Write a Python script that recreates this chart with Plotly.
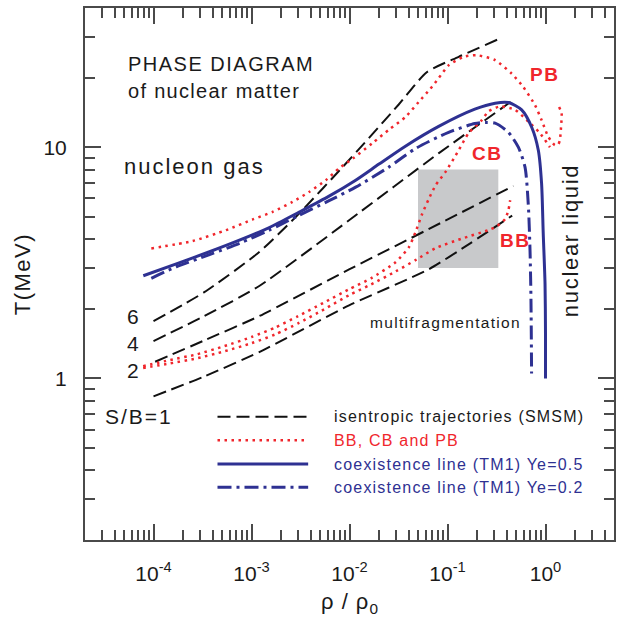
import math
import plotly.graph_objects as go

# isentropic trajectories (SMSM), one per S/B value
sb1_rho = [1.0e-4, 3.3e-4, 1.2e-3, 9.9e-3, 0.064, 0.172, 0.457]
sb1_T = [0.836, 1.02, 1.30, 2.07, 2.96, 3.85, 5.06]
sb2_rho = [1.04e-4, 3.3e-4, 1.2e-3, 9.9e-3, 0.064, 0.47]
sb2_T = [1.18, 1.46, 1.86, 2.96, 4.42, 6.8]
sb4_rho = [1.0e-4, 3.3e-4, 1.2e-3, 9.9e-3, 0.081, 0.47]
sb4_T = [1.45, 1.86, 2.51, 4.83, 9.4, 16.0]
sb6_rho = [1.0e-4, 3.3e-4, 1.2e-3, 2.84e-3, 9.9e-3, 0.0318, 0.0614, 0.130, 0.324]
sb6_T = [1.77, 2.36, 3.52, 5.0, 8.8, 15.3, 21.1, 24.6, 29.2]

# BB, CB and PB boundaries
bb_rho = [7.84e-5, 1.46e-4, 2.75e-4, 5.3e-4, 1.0e-3, 1.75e-3, 2.99e-3, 5.51e-3, 9.9e-3,
          0.0166, 0.0295, 0.0485, 0.0757, 0.139, 0.262, 0.318, 0.387, 0.418, 0.436]
bb_T = [1.11, 1.16, 1.22, 1.31, 1.42, 1.55, 1.73, 1.99, 2.29,
        2.55, 2.90, 3.27, 3.66, 4.02, 4.38, 4.55, 4.89, 5.34, 5.9]
cb_rho = [7.84e-5, 1.46e-4, 2.75e-4, 5.3e-4, 1.0e-3, 1.75e-3, 2.99e-3, 5.51e-3, 9.9e-3,
          0.0166, 0.0295, 0.0403, 0.0471, 0.055, 0.0643, 0.0757, 0.0951, 0.130, 0.164,
          0.224, 0.262, 0.344, 0.49, 0.668, 0.879, 1.11]
cb_T = [1.13, 1.20, 1.27, 1.38, 1.51, 1.66, 1.86, 2.13, 2.43,
        2.71, 3.18, 3.69, 4.29, 5.13, 5.96, 6.85, 7.8, 9.7, 11.5,
        13.1, 14.3, 15.0, 14.5, 12.9, 11.5, 10.0]
pb_rho = [9.5e-5, 2.52e-4, 5.51e-4, 1.03e-3, 1.64e-3, 2.62e-3, 3.87e-3, 5.73e-3, 7.82e-3,
          0.0107, 0.0171, 0.0252, 0.0372, 0.0509, 0.0668, 0.0813, 0.1026, 0.146, 0.199,
          0.306, 0.452, 0.594, 0.782, 0.912, 1.067, 1.248, 1.35, 1.40, 1.44, 1.46, 1.37]
pb_T = [3.65, 3.93, 4.38, 4.87, 5.25, 5.8, 6.4, 7.2, 8.1,
        8.9, 10.4, 11.9, 13.5, 15.7, 17.9, 19.9, 22.6, 24.6, 25.0,
        23.8, 20.8, 18.2, 15.2, 13.1, 11.1, 10.2, 10.3, 10.7, 12.2, 14.0, 15.0]

# coexistence lines (TM1)
ye05_rho = [7.87e-5, 1.71e-4, 3.73e-4, 7.53e-4, 1.52e-3, 3.07e-3, 6.19e-3, 0.01156, 0.020,
            0.0372, 0.0813, 0.19, 0.306, 0.418, 0.571, 0.723, 0.845, 0.912, 0.948, 0.989,
            1.0, 1.0]
ye05_T = [2.78, 3.13, 3.53, 3.96, 4.49, 5.24, 6.14, 7.2, 8.45,
          10.1, 12.3, 14.6, 15.5, 15.6, 14.5, 12.2, 9.7, 6.97, 4.24, 2.57,
          1.56, 1.0]
ye02_rho = [9.5e-5, 1.71e-4, 3.73e-4, 7.53e-4, 1.52e-3, 3.07e-3, 6.19e-3, 0.01156, 0.0252,
            0.0471, 0.1026, 0.19, 0.243, 0.306, 0.418, 0.528, 0.618, 0.668, 0.695, 0.711,
            0.721]
ye02_T = [2.71, 3.04, 3.43, 3.84, 4.38, 5.08, 5.87, 6.72, 8.2,
          9.86, 11.6, 12.65, 12.8, 12.7, 11.6, 10.0, 8.2, 5.61, 3.58, 2.18,
          1.05]

# multifragmentation region
box_rho = [0.05, 0.33]
box_T = [3.0, 8.0]

x_major = [1e-4, 1e-3, 1e-2, 1e-1, 1.0]
x_labels = ["10<sup>-4</sup>", "10<sup>-3</sup>", "10<sup>-2</sup>", "10<sup>-1</sup>", "10<sup>0</sup>"]
y_major = [1, 10]
y_labels = ["1", "10"]

RED = "#f0262c"
BLUE = "#2e3192"
INK = "#1a1a1a"
FRAME = "#4a4a4a"
FONT = "Liberation Sans, Arial, sans-serif"
DASH = "13px,6px"
DOT = "2.5px,4.5px"
DASHDOT = "14px,5px,3px,5px"


def paper(px, py):
    # pixel position in the 617x620 page -> paper coordinates of the plot area
    return (px - 85) / 531, (540 - py) / 532


def spaced(text, gap, size):
    return f'<span style="letter-spacing:{gap}px;font-size:{size}px">{text}</span>'


fig = go.Figure()

fig.add_trace(go.Scatter(
    x=[box_rho[0], box_rho[1], box_rho[1], box_rho[0], box_rho[0]],
    y=[box_T[0], box_T[0], box_T[1], box_T[1], box_T[0]],
    mode="lines", fill="toself", fillcolor="#c8c9cb", line=dict(width=0),
    hoverinfo="skip",
))

for rho, T in [(sb1_rho, sb1_T), (sb2_rho, sb2_T), (sb4_rho, sb4_T), (sb6_rho, sb6_T)]:
    fig.add_trace(go.Scatter(
        x=rho, y=T, mode="lines",
        line=dict(color="#111111", width=2, dash=DASH, shape="spline", smoothing=0.6),
    ))

for rho, T in [(bb_rho, bb_T), (cb_rho, cb_T), (pb_rho, pb_T)]:
    fig.add_trace(go.Scatter(
        x=rho, y=T, mode="lines",
        line=dict(color=RED, width=2.5, dash=DOT, shape="spline", smoothing=0.6),
    ))

fig.add_trace(go.Scatter(
    x=ye05_rho, y=ye05_T, mode="lines",
    line=dict(color=BLUE, width=3, shape="spline", smoothing=0.7),
))
fig.add_trace(go.Scatter(
    x=ye02_rho, y=ye02_T, mode="lines",
    line=dict(color=BLUE, width=3, dash=DASHDOT, shape="spline", smoothing=0.7),
))

axis_common = dict(
    showline=True, linecolor=FRAME, linewidth=2, mirror="ticks",
    ticks="inside", ticklen=16, tickwidth=1.5, tickcolor=FRAME,
    showgrid=False, zeroline=False,
    tickfont=dict(family=FONT, size=21, color=INK),
)
x_minor = [m * 10.0 ** e for e in range(-5, 1) for m in range(2, 10) if 2e-5 < m * 10.0 ** e < 5]
y_minor = [m * 10.0 ** e for e in range(-1, 2) for m in range(2, 10) if 0.2 < m * 10.0 ** e < 40]

fig.update_xaxes(
    type="log", range=[math.log10(2e-5), math.log10(5)],
    tickmode="array", tickvals=x_major, ticktext=x_labels, ticklabelstandoff=14,
    minor=dict(tickmode="array", tickvals=x_minor, ticks="inside", ticklen=10,
               tickwidth=1.5, tickcolor=FRAME, showgrid=False),
    **axis_common,
)
fig.update_yaxes(
    type="log", range=[math.log10(0.2), math.log10(40)],
    tickmode="array", tickvals=y_major, ticktext=y_labels, ticklabelstandoff=12,
    minor=dict(tickmode="array", tickvals=y_minor, ticks="inside", ticklen=10,
               tickwidth=1.5, tickcolor=FRAME, showgrid=False),
    **axis_common,
)

texts = [
    # (text, px, py, anchor, size, color, bold, gap, angle)
    ("PHASE DIAGRAM", 126, 64, "left", 20, INK, False, 1.5, 0),
    ("of nuclear matter", 126, 90.5, "left", 20, INK, False, 1.3, 0),
    ("nucleon gas", 122, 166.7, "left", 22, INK, False, 2, 0),
    ("6", 133, 316, "center", 21, INK, False, 0, 0),
    ("4", 133, 343.5, "center", 21, INK, False, 0, 0),
    ("2", 133, 370.5, "center", 21, INK, False, 0, 0),
    ("S/B=1", 103, 416, "left", 21, INK, False, 2, 0),
    ("multifragmentation", 369, 322.7, "left", 15.5, INK, False, 1.3, 0),
    ("nuclear liquid", 572, 241, "center", 22, INK, False, 1.7, -90),
    ("PB", 530, 74, "left", 19, RED, True, 1.5, 0),
    ("CB", 471.5, 153.3, "left", 19, RED, True, 1.5, 0),
    ("BB", 500, 240, "left", 19, RED, True, 1.5, 0),
    ("isentropic trajectories (SMSM)", 333, 416.7, "left", 16, INK, False, 1.2, 0),
    ("BB, CB and PB", 333, 440.3, "left", 16, RED, False, 1.2, 0),
    ("coexistence line (TM1) Ye=0.5", 333, 464, "left", 16, BLUE, False, 1.2, 0),
    ("coexistence line (TM1) Ye=0.2", 333, 487.3, "left", 16, BLUE, False, 1.2, 0),
    ("T(MeV)", 22, 274, "center", 22, INK, False, 1.5, -90),
    ("ρ / ρ<sub>0</sub>", 351, 603, "center", 22, INK, False, 1, 0),
]
for text, px, py, anchor, size, color, bold, gap, angle in texts:
    ax, ay = paper(px, py)
    body = f"<b>{text}</b>" if bold else text
    fig.add_annotation(
        x=ax, y=ay, xref="paper", yref="paper", showarrow=False,
        text=spaced(body, gap, size) if gap else body,
        xanchor=anchor, yanchor="middle", textangle=angle,
        font=dict(family=FONT, size=size, color=color),
    )

# hand-drawn legend samples
legend_rows = [
    (416.7, "#111111", 2, DASH),
    (440.3, RED, 2.5, DOT),
    (464, BLUE, 3, "solid"),
    (487.3, BLUE, 3, DASHDOT),
]
for py, color, width, dash in legend_rows:
    x0, y0 = paper(218, py)
    x1, _ = paper(309, py)
    fig.add_shape(type="line", xref="paper", yref="paper", x0=x0, x1=x1, y0=y0, y1=y0,
                  line=dict(color=color, width=width, dash=dash))

fig.update_layout(
    width=617, height=620,
    margin=dict(l=85, r=1, t=8, b=80),
    paper_bgcolor="white", plot_bgcolor="white",
    showlegend=False,
    font=dict(family=FONT, color=INK),
)

# the page's default 8px body margin would push the 617x620 figure out of the window
fig.write_html("out.html", config={"displayModeBar": False},
               post_script="document.body.style.margin = '0';")
